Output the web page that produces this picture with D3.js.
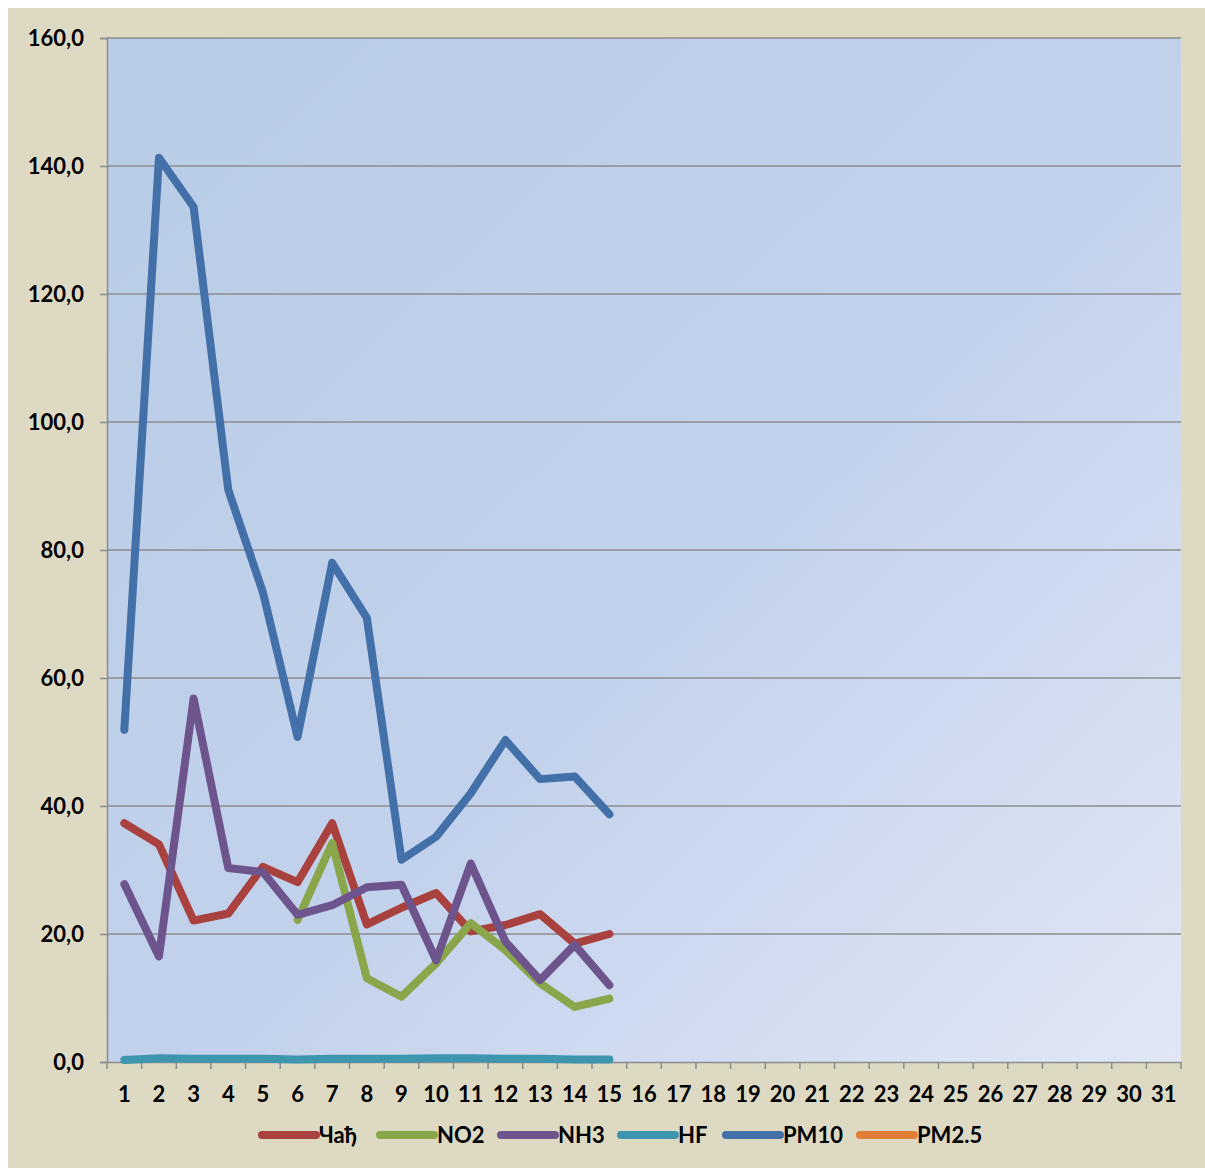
<!DOCTYPE html>
<html><head><meta charset="utf-8">
<script src="https://cdn.jsdelivr.net/npm/d3@7"></script>
<style>
html,body{margin:0;padding:0;background:#fff;}
svg text{font-family:Lato,"Open Sans",sans-serif;font-weight:700;fill:#000;}
</style></head>
<body>
<svg id="chart" width="1205" height="1168"></svg>
<script>
const days = d3.range(1, 32).map(String);
const yTicks = [0, 20, 40, 60, 80, 100, 120, 140, 160];
const seriesNames = ["Чађ", "NO2", "NH3", "HF", "PM10", "PM2.5"];
const seriesColors = ["#A9413E", "#89A64A", "#6E548C", "#3D96AE", "#4370A8", "#E07E36"];
const cad  = [37.3, 34.0, 22.1, 23.2, 30.5, 28.1, 37.3, 21.5, 24.1, 26.4, 20.4, 21.4, 23.1, 18.5, 20.0];
const no2  = [null, null, null, null, null, 22.2, 34.2, 13.1, 10.2, 15.4, 21.7, 17.5, 12.3, 8.6, 9.9];
const nh3  = [27.8, 16.5, 56.8, 30.3, 29.7, 23.0, 24.5, 27.3, 27.7, 15.9, 31.0, 18.8, 12.8, 18.3, 12.0];
const hf   = [0.3, 0.6, 0.5, 0.5, 0.5, 0.4, 0.5, 0.5, 0.5, 0.6, 0.6, 0.5, 0.5, 0.4, 0.4];
const pm10 = [51.9, 141.3, 133.6, 89.4, 73.4, 50.8, 78.0, 69.4, 31.6, 35.2, 42.0, 50.3, 44.2, 44.6, 38.7];
const pm25 = [];
const seriesValues = [cad, no2, nh3, hf, pm10, pm25];

const svg = d3.select("#chart");
const L = 107, T = 38, R = 1181, B = 1062;

svg.append("rect").attr("x", 8).attr("y", 8).attr("width", 1197).attr("height", 1160).attr("fill", "#DDD9C3");

const defs = svg.append("defs");
const grad = defs.append("linearGradient").attr("id", "pg").attr("x1", 0).attr("y1", 0).attr("x2", 1).attr("y2", 1);
grad.append("stop").attr("offset", 0).attr("stop-color", "#B8CCE5");
grad.append("stop").attr("offset", 0.55).attr("stop-color", "#C3D2EC");
grad.append("stop").attr("offset", 1).attr("stop-color", "#E1E7F5");

svg.append("rect").attr("x", L).attr("y", T).attr("width", R - L).attr("height", B - T).attr("fill", "url(#pg)");

const x = d3.scaleBand().domain(days).range([L, R]);
const y = d3.scaleLinear().domain([0, 160]).range([B, T]);

// gridlines
svg.append("g").selectAll("line").data(yTicks.filter(v => v > 0)).join("line")
  .attr("x1", L).attr("x2", R).attr("y1", d => y(d)).attr("y2", d => y(d))
  .attr("stroke", "#8C8C8C").attr("stroke-width", 1.5);

// y axis
const yAxis = svg.append("g").attr("transform", `translate(${L},0)`)
  .call(d3.axisLeft(y).tickValues(yTicks).tickSize(7).tickPadding(16)
    .tickFormat(d => d3.format(".1f")(d).replace(".", ",")));
yAxis.select(".domain").attr("stroke", "#8C8C8C").attr("stroke-width", 1.5);
yAxis.selectAll(".tick line").attr("stroke", "#8C8C8C").attr("stroke-width", 1.5);
yAxis.selectAll("text").style("font-size", "22px").attr("dy", "0.35em");

// x axis
const xAxis = svg.append("g").attr("transform", `translate(0,${B})`)
  .call(d3.axisBottom(x).tickSize(0).tickPadding(24));
xAxis.select(".domain").attr("stroke", "#8C8C8C").attr("stroke-width", 1.5);
xAxis.selectAll("text").style("font-size", "22px");
svg.append("g").selectAll("line").data(d3.range(0, 32)).join("line")
  .attr("x1", i => L + x.step() * i).attr("x2", i => L + x.step() * i)
  .attr("y1", B).attr("y2", B + 7)
  .attr("stroke", "#8C8C8C").attr("stroke-width", 1.5);

// lines
const line = d3.line()
  .defined(d => d != null)
  .x((d, i) => x(days[i]) + x.bandwidth() / 2)
  .y(d => y(d));
seriesValues.forEach((vals, k) => {
  if (!vals.length) return;
  svg.append("path").datum(vals)
    .attr("d", line).attr("fill", "none")
    .attr("stroke", seriesColors[k]).attr("stroke-width", 8)
    .attr("stroke-linecap", "round").attr("stroke-linejoin", "round");
});

// legend
const legX = [262, 380, 501, 621, 726, 860];
const leg = svg.append("g");
seriesNames.forEach((n, k) => {
  leg.append("line").attr("x1", legX[k]).attr("x2", legX[k] + 54).attr("y1", 1135).attr("y2", 1135)
    .attr("stroke", seriesColors[k]).attr("stroke-width", 8).attr("stroke-linecap", "round");
  leg.append("text").attr("x", legX[k] + 57).attr("y", 1135).attr("dy", "0.35em")
    .style("font-size", "22px").text(n);
});
</script>
</body></html>
